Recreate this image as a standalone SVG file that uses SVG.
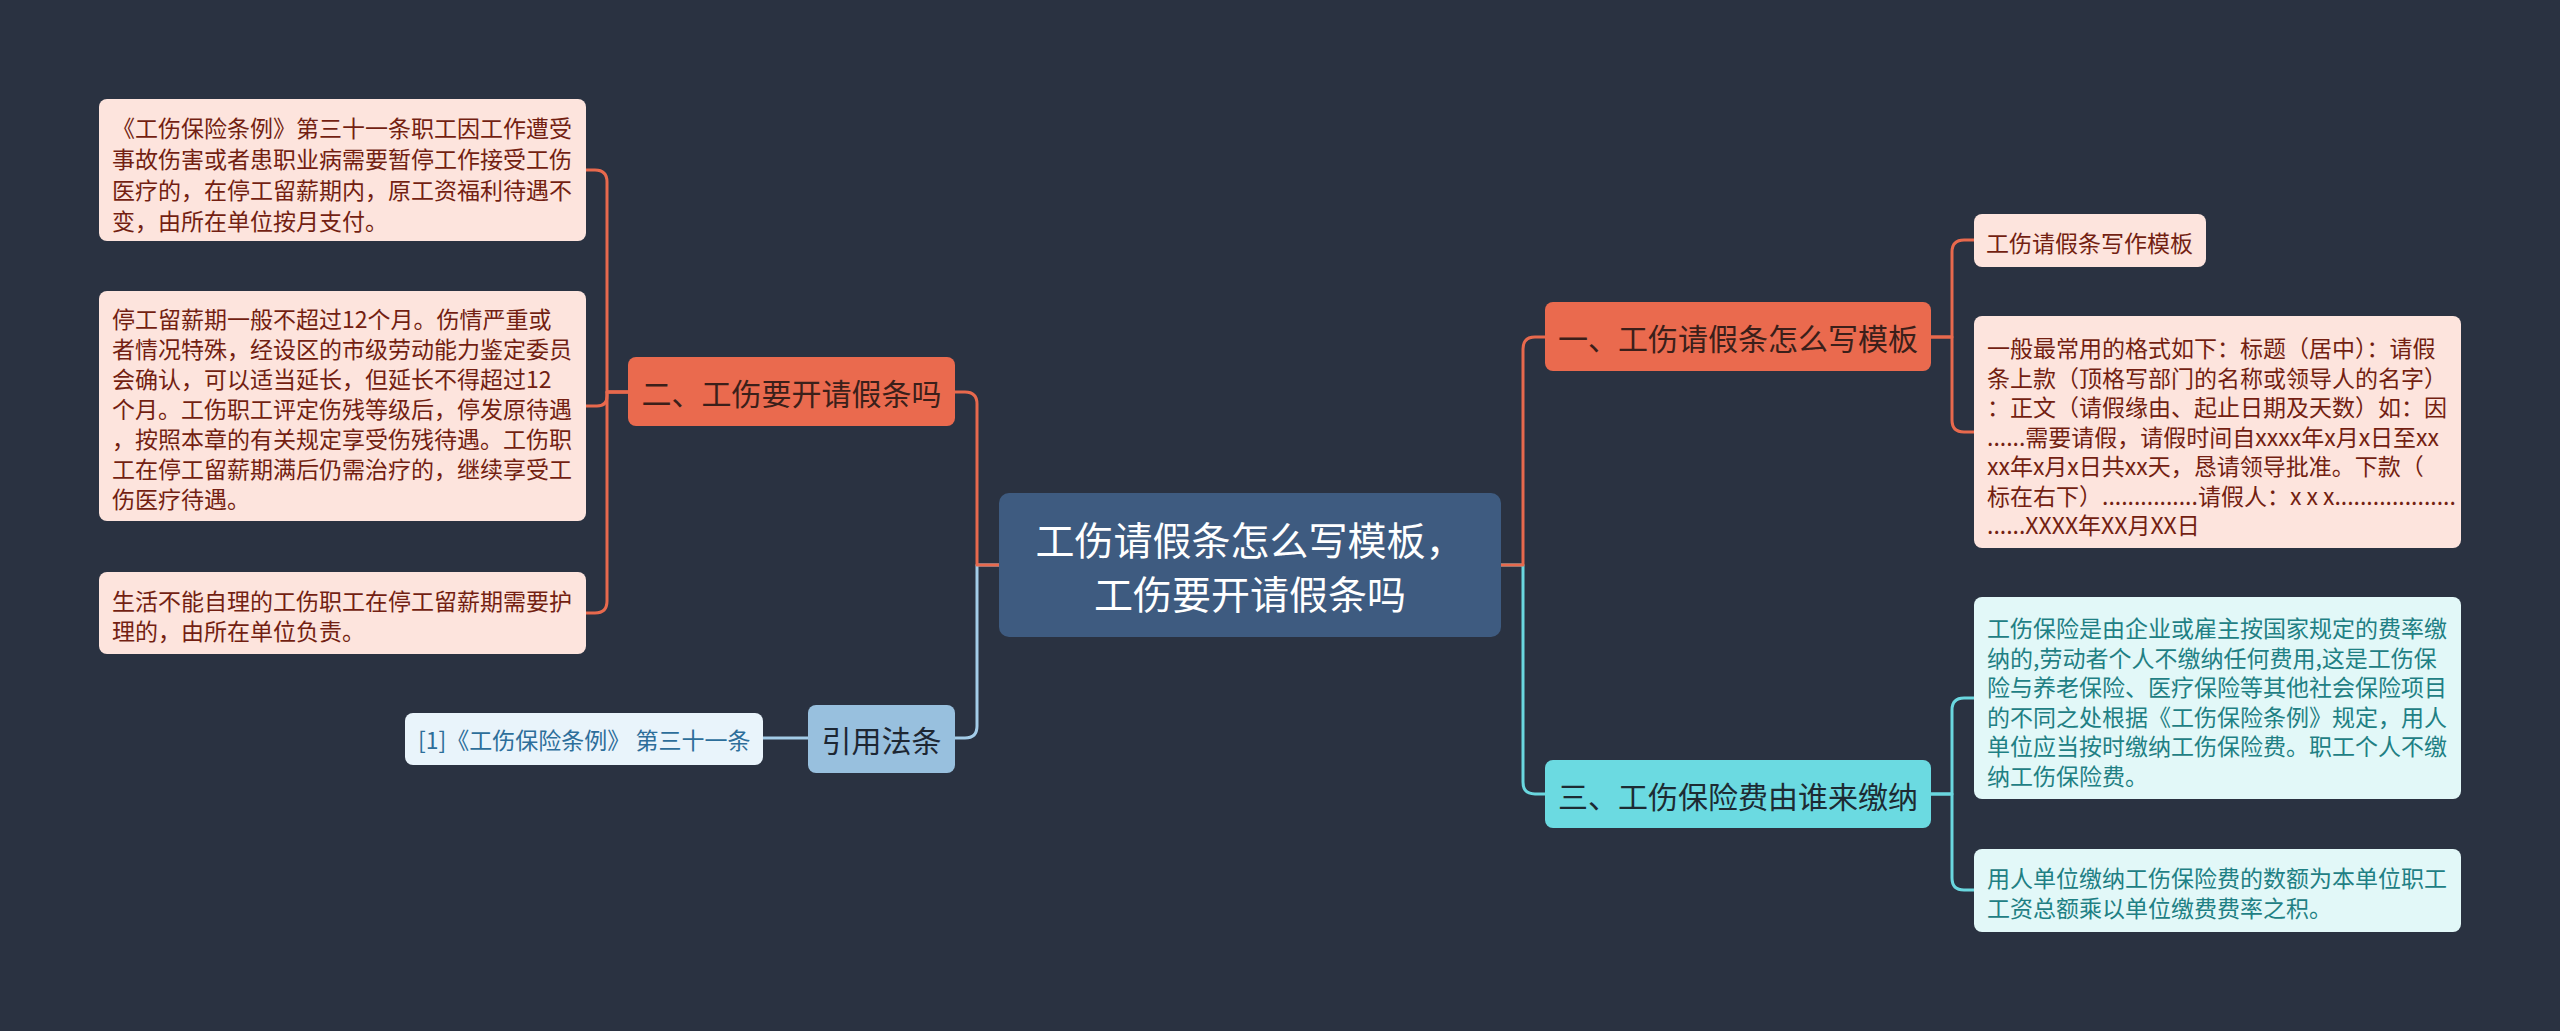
<svg xmlns="http://www.w3.org/2000/svg" width="2560" height="1031" viewBox="0 0 2560 1031">
<style>
text{font-family:"Noto Sans CJK SC","Noto Sans",sans-serif;dominant-baseline:central}
.c{fill:none;stroke-width:3;stroke-linejoin:round}
.co{stroke:#e8694d}.cb{stroke:#a3cce8}.cc{stroke:#6ad7df}
.pk rect{fill:#fde4dd}.pk text{fill:#731f12;font-size:23px}
.cy rect{fill:#e2f8f8}.cy text{fill:#1f8084;font-size:23px}
.or rect{fill:#ea6a4e}.or text{fill:#3b1f1a;font-size:30px;text-anchor:middle}
.cn rect{fill:#6bdae1}.cn text{fill:#1d2b33;font-size:30px;text-anchor:middle}
</style>
<rect width="2560" height="1031" fill="#2a3241"/>
<g id="connectors">
<path class="c cb" d="M999 565 H977 V726 Q977 738 965 738 H955"/>
<path class="c co" d="M999 565 H977 V404 Q977 392 965 392 H955"/>
<path class="c co" d="M628 392 H607 V182 Q607 170 595 170 H586"/>
<path class="c co" d="M628 392 H607 V396 Q607 406 597 406 H586"/>
<path class="c co" d="M628 392 H607 V601 Q607 613 595 613 H586"/>
<path class="c cb" d="M808 738 H763"/>
<path class="c cc" d="M1501 565 H1523 V782 Q1523 794 1535 794 H1545"/>
<path class="c co" d="M1501 565 H1523 V349 Q1523 337 1535 337 H1545"/>
<path class="c co" d="M1931 337 H1952 V252 Q1952 240 1964 240 H1974"/>
<path class="c co" d="M1931 337 H1952 V420 Q1952 432 1964 432 H1974"/>
<path class="c cc" d="M1931 794 H1952 V710 Q1952 698 1964 698 H1974"/>
<path class="c cc" d="M1931 794 H1952 V878 Q1952 890 1964 890 H1974"/>
</g>
<g id="center">
<rect x="999" y="493" width="502" height="144" rx="10" fill="#3e5b80"/>
<text x="1250" y="538" font-size="39" fill="#ffffff" text-anchor="middle">工伤请假条怎么写模板，</text>
<text x="1250" y="592" font-size="39" fill="#ffffff" text-anchor="middle">工伤要开请假条吗</text>
</g>
<g id="n2" class="or">
<rect x="628" y="357" width="327" height="69" rx="8"/>
<text x="791.5" y="392">二、工伤要开请假条吗</text>
</g>
<g id="n2a" class="pk">
<rect x="99" y="99" width="487" height="142" rx="8"/>
<text x="112" y="127">《工伤保险条例》第三十一条职工因工作遭受</text>
<text x="112" y="158">事故伤害或者患职业病需要暂停工作接受工伤</text>
<text x="112" y="189">医疗的，在停工留薪期内，原工资福利待遇不</text>
<text x="112" y="220">变，由所在单位按月支付。</text>
</g>
<g id="n2b" class="pk">
<rect x="99" y="291" width="487" height="230" rx="8"/>
<text x="112" y="318">停工留薪期一般不超过12个月。伤情严重或</text>
<text x="112" y="348">者情况特殊，经设区的市级劳动能力鉴定委员</text>
<text x="112" y="378">会确认，可以适当延长，但延长不得超过12</text>
<text x="112" y="408">个月。工伤职工评定伤残等级后，停发原待遇</text>
<text x="112" y="438">，按照本章的有关规定享受伤残待遇。工伤职</text>
<text x="112" y="468">工在停工留薪期满后仍需治疗的，继续享受工</text>
<text x="112" y="498">伤医疗待遇。</text>
</g>
<g id="n2c" class="pk">
<rect x="99" y="572" width="487" height="82" rx="8"/>
<text x="112" y="600">生活不能自理的工伤职工在停工留薪期需要护</text>
<text x="112" y="630">理的，由所在单位负责。</text>
</g>
<g id="law">
<rect x="808" y="705" width="147" height="68" rx="8" fill="#98c0de"/>
<text x="881.5" y="739" font-size="30" fill="#1d2733" text-anchor="middle">引用法条</text>
</g>
<g id="law1">
<rect x="405" y="713" width="358" height="52" rx="8" fill="#e9f4fb"/>
<text x="418" y="739" font-size="23" fill="#2d6e9a">[1]《工伤保险条例》 第三十一条</text>
</g>
<g id="n1" class="or">
<rect x="1545" y="302" width="386" height="69" rx="8"/>
<text x="1738" y="337">一、工伤请假条怎么写模板</text>
</g>
<g id="n1a" class="pk">
<rect x="1974" y="214" width="232" height="53" rx="8"/>
<text x="1986" y="242">工伤请假条写作模板</text>
</g>
<g id="n1b" class="pk">
<rect x="1974" y="316" width="487" height="232" rx="8"/>
<text x="1987" y="347">一般最常用的格式如下：标题（居中）：请假</text>
<text x="1987" y="376.5">条上款（顶格写部门的名称或领导人的名字）</text>
<text x="1987" y="406">：正文（请假缘由、起止日期及天数）如：因</text>
<text x="1987" y="435.5">......需要请假，请假时间自xxxx年x月x日至xx</text>
<text x="1987" y="465">xx年x月x日共xx天，恳请领导批准。下款（</text>
<text x="1987" y="494.5">标在右下）...............请假人：x x x...................</text>
<text x="1987" y="524">......XXXX年XX月XX日</text>
</g>
<g id="n3" class="cn">
<rect x="1545" y="760" width="386" height="68" rx="8"/>
<text x="1738" y="795">三、工伤保险费由谁来缴纳</text>
</g>
<g id="n3a" class="cy">
<rect x="1974" y="597" width="487" height="202" rx="8"/>
<text x="1987" y="627">工伤保险是由企业或雇主按国家规定的费率缴</text>
<text x="1987" y="656.5">纳的,劳动者个人不缴纳任何费用,这是工伤保</text>
<text x="1987" y="686">险与养老保险、医疗保险等其他社会保险项目</text>
<text x="1987" y="715.5">的不同之处根据《工伤保险条例》规定，用人</text>
<text x="1987" y="745">单位应当按时缴纳工伤保险费。职工个人不缴</text>
<text x="1987" y="774.5">纳工伤保险费。</text>
</g>
<g id="n3b" class="cy">
<rect x="1974" y="849" width="487" height="83" rx="8"/>
<text x="1987" y="877">用人单位缴纳工伤保险费的数额为本单位职工</text>
<text x="1987" y="907">工资总额乘以单位缴费费率之积。</text>
</g>
</svg>
